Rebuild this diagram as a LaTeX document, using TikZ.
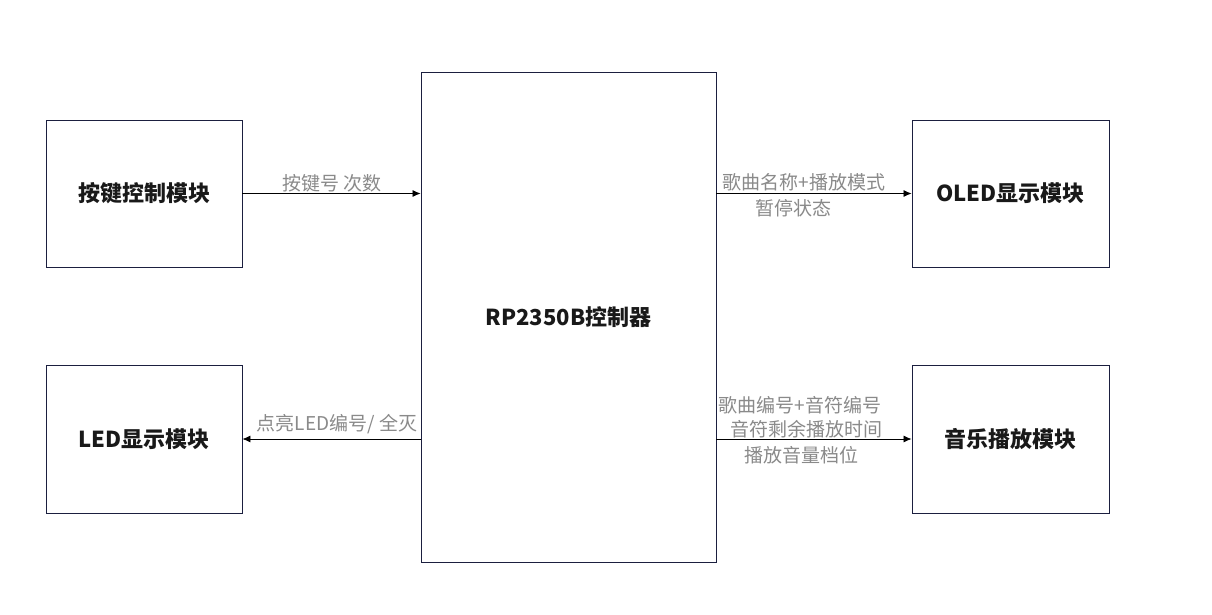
\documentclass[tikz,border=0pt]{standalone}
\usepackage{fontspec}
\setmainfont{Noto Sans CJK SC}
\usetikzlibrary{arrows.meta}
\definecolor{boxline}{HTML}{1B1F3F}
\definecolor{lbl}{HTML}{8A8A8A}
\begin{document}
\begin{tikzpicture}[x=1pt,y=-1pt,
  block/.style={draw=boxline,line width=0.9pt,fill=white,inner sep=0pt,
    font=\fontsize{22}{26}\selectfont\bfseries, text=black!90},
  lab/.style={font=\fontsize{19}{23}\selectfont, text=lbl, inner sep=0pt, align=center},
  conn/.style={draw=black,line width=0.8pt,-{Latex[length=8pt,width=7pt]}}]
\useasboundingbox (0,0) rectangle (1212,615);
\fill[white] (0,0) rectangle (1212,615);
\node[block,minimum width=196pt,minimum height=147pt] (key) at (144,193.5) {按键控制模块};
\node[block,minimum width=196pt,minimum height=148pt] (led) at (144,439) {LED显示模块};
\node[block,minimum width=295pt,minimum height=490pt] (rp) at (568.5,317) {RP2350B控制器};
\node[block,minimum width=197pt,minimum height=147pt] (oled) at (1010.5,193.5) {OLED显示模块};
\node[block,minimum width=197pt,minimum height=148pt] (music) at (1010.5,439) {音乐播放模块};
\draw[conn] (key.east) -- (rp.west |- key.east);
\draw[conn] (rp.east |- oled.west) -- (oled.west);
\draw[conn] (rp.west |- led.east) -- (led.east);
\draw[conn] (rp.east |- music.west) -- (music.west);
\node[lab] (l1) at (332,183) {按键号 次数};
\node[lab] (l2) at (804,182) {歌曲名称+播放模式};
\node[lab] (l3) at (793,208) {暂停状态};
\node[lab] (l4) at (337,424) {点亮LED编号/ 全灭};
\node[lab] (l5) at (800,405) {歌曲编号+音符编号};
\node[lab] (l6) at (806,429) {音符剩余播放时间};
\node[lab] (l7) at (801,455) {播放音量档位};
\end{tikzpicture}
\end{document}
